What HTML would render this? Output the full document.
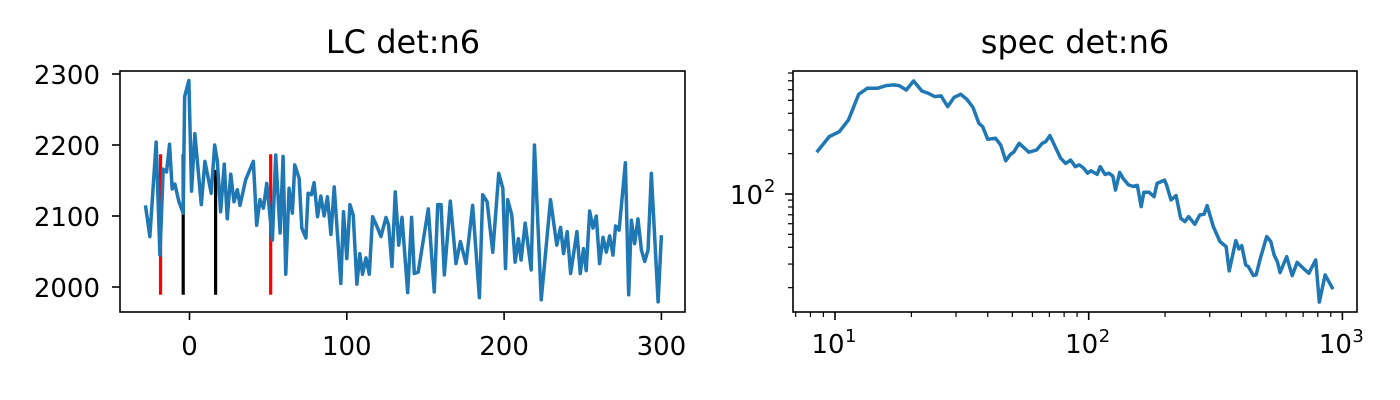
<!DOCTYPE html>
<html><head><meta charset="utf-8"><style>
html,body{margin:0;padding:0;background:#fff;}
svg{display:block;font-family:"DejaVu Sans","Liberation Sans",sans-serif;}
</style></head><body>
<svg id="fig" width="1400" height="400" viewBox="0 0 1400 400" xmlns="http://www.w3.org/2000/svg">
<rect width="1400" height="400" fill="#fff"/>
<text x="403" y="53" font-size="32" text-anchor="middle">LC det:n6</text>
<text x="1075" y="53" font-size="32" text-anchor="middle">spec det:n6</text>
<g id="lc"></g>
<g id="spec"></g>
</svg>
<script>
const lcTimes=[-28,-25.2,-21.2,-18.8,-16.7,-14.6,-12.7,-11,-9.3,-6.7,-4,-3.1,-0.4,1.3,3.4,7.5,9.8,13.8,16,17.7,19.8,22.1,24,26.2,28.3,30.4,32.1,35.7,40.6,42.7,44.8,47,49.1,52.7,54.8,57.6,59.5,61.2,63.3,65.4,66.9,69.7,71.4,74,75.4,77.5,79.2,81.4,83.5,85.6,87.7,89.9,92,96.2,97.9,100,102,104.1,106.4,108.3,110,112.2,114.3,116.4,119.6,121.7,124.9,126.6,128.7,130.8,133,135.1,138.7,141.2,142.9,145.4,151.8,155.6,157.8,159.9,162,165.8,169.4,172.2,175.8,180,184.3,186.4,189.2,192.8,196.6,199.2,200.9,202.3,204.9,207,209.1,210.8,213.4,217.2,219.3,223.6,229.5,233.5,235.9,237.8,240.1,242.3,246.3,248.4,250.5,252.2,254.4,256.5,258.6,260.7,262.9,265,267.1,269.2,270.9,273.1,277.1,279.2,280.9,283,285.1,287.3,289.4,291.5,293.6,297.9,300];
const lcCounts=[2115,2071,2204,2045,2166,2162,2201,2138,2145,2120,2104,2268,2291,2135,2216,2116,2177,2132,2200,2177,2106,2173,2096,2159,2120,2137,2115,2151,2177,2087,2123,2111,2146,2066,2186,2076,2184,2018,2139,2104,2172,2153,2083,2069,2132,2130,2147,2099,2128,2100,2127,2074,2141,2005,2106,2040,2116,2101,2004,2047,2018,2041,2018,2099,2083,2071,2098,2087,2029,2134,2059,2098,1992,2098,2019,2021,2110,1993,2116,2116,2017,2121,2033,2064,2033,2115,1985,2130,2120,2049,2160,2139,2026,2123,2101,2035,2068,2038,2090,2024,2200,1982,2123,2059,2084,2047,2078,2019,2078,2019,2054,2023,2107,2083,2100,2033,2070,2049,2072,2045,2086,2080,2175,1989,2094,2061,2096,2052,2036,2052,2160,1979,2073];
const markerTimes=[-18.4,-4.0,16.6,51.6];
const markerColors=["red","black","black","red"];
const markerLow=[1989,1989,1989,1989];
const markerHigh=[2187,2187,2165,2187];
const lcXTicks=[0,100,200,300];
const lcYTicks=[2000,2100,2200,2300];

const specFreq=[8.47,9.49,10.4,11.3,12.4,13.4,14.7,15.9,17.0,17.9,19.1,20.4,22.0,23.3,24.7,26.2,27.8,29.5,31.3,33.1,35.0,36.9,38.2,40.0,42.9,45.0,47.1,49.2,50.6,53.2,58.1,62.3,65.6,67.7,70.3,77.5,81.1,84.9,88.5,91.8,95.5,99,102,108,111,116,120,124.5,127.5,132.5,136.5,143.5,149.5,155.5,161,165,173,181,186,199,203,211,221,230.5,239.5,247.5,262,274,285,293,310,329,348,358,380,391,401,416,426,446,457,474,503,522,538,554,568,603,634,663,701,738,760,785,811,855,918];
const specPower=[205,268,292,357,555,615,615,644,652,644,597,698,587,565,533,540,449,527,555,509,442,337,318,256,261,232,177,198,205,239,205,213,239,246,273,185,169,179,160,165,156,143,149,140,160,140,143,136,107,145,131,117,114,116,80.5,103,103,95.5,120,127,116,90.3,97.3,65.9,62.2,67.8,59.4,69.8,70.6,81.9,57.0,44.2,40.5,26.7,44.9,38.9,41.2,29.5,28.7,24.6,24.9,32.7,48.1,44.2,35.1,31.3,25.9,34.1,24.6,30.9,27.9,25.6,28.7,32.2,15.6,24.9,19.5];

const NS="http://www.w3.org/2000/svg";
function mk(parent,tag,attrs){const e=document.createElementNS(NS,tag);for(const k in attrs)e.setAttribute(k,attrs[k]);parent.appendChild(e);return e;}

// LC axes
const L={x0:120,x1:685,y0:71,y1:312};
const lx=t=>189.5+t*1.573;
const ly=v=>287-(v-2000)*0.71;
const lc=document.getElementById('lc');
markerTimes.forEach((t,i)=>{
  const ln=mk(lc,'line',{x1:lx(t),x2:lx(t),y1:ly(markerLow[i]),y2:ly(markerHigh[i]),stroke:markerColors[i],'stroke-width':3.2});
  
  
});
const lcPath=mk(lc,'polyline',{points:lcTimes.map((t,i)=>lx(t)+','+ly(lcCounts[i])).join(' '),fill:'none',stroke:'#1f77b4','stroke-width':3.5,'stroke-linejoin':'round'});


mk(lc,'rect',{x:L.x0,y:L.y0,width:L.x1-L.x0,height:L.y1-L.y0,fill:'none',stroke:'#000','stroke-width':1.6});
lcXTicks.forEach(t=>{
  mk(lc,'line',{x1:lx(t),x2:lx(t),y1:L.y1,y2:L.y1+8,stroke:'#000','stroke-width':1.6});
  const tx=mk(lc,'text',{x:lx(t),y:L.y1+43,'font-size':26,'text-anchor':'middle'});tx.textContent=t;
  
  
});
lcYTicks.forEach(v=>{
  mk(lc,'line',{x1:L.x0-8,x2:L.x0,y1:ly(v),y2:ly(v),stroke:'#000','stroke-width':1.6});
  const tx=mk(lc,'text',{x:L.x0-20,y:ly(v)+10,'font-size':26,'text-anchor':'end'});tx.textContent=v;
  
  
});

// Spectrum axes (log-log)
const S={x0:793,x1:1357,y0:71,y1:312};
const sx=f=>835+(Math.log10(f)-1)*253.7;
const sy=p=>194-(Math.log10(p)-2)*134;
const sp=document.getElementById('spec');
const spPath=mk(sp,'polyline',{points:specFreq.map((f,i)=>sx(f)+','+sy(specPower[i])).join(' '),fill:'none',stroke:'#1f77b4','stroke-width':3.5,'stroke-linejoin':'round'});


mk(sp,'rect',{x:S.x0,y:S.y0,width:S.x1-S.x0,height:S.y1-S.y0,fill:'none',stroke:'#000','stroke-width':1.6});
for(let d=1;d<=1000;d*=10){for(let m=1;m<10;m++){const f=d*m;const x=sx(f);if(x<S.x0||x>S.x1)continue;
  const major=(m===1);mk(sp,'line',{x1:x,x2:x,y1:S.y1,y2:S.y1+(major?8:5),stroke:'#000','stroke-width':major?1.6:1.2});
  if(major){const tx=mk(sp,'text',{x:x-7,y:S.y1+41,'font-size':26,'text-anchor':'middle'});tx.textContent='10';
    
    
    const e=mk(sp,'text',{x:x+10,y:S.y1+30,'font-size':18});e.textContent=Math.round(Math.log10(f));}
}}
for(let d=10;d<=1000;d*=10){for(let m=1;m<10;m++){const p=d*m;const y=sy(p);if(y<S.y0||y>S.y1)continue;
  const major=(m===1);mk(sp,'line',{x1:S.x0-(major?8:5),x2:S.x0,y1:y,y2:y,stroke:'#000','stroke-width':major?1.6:1.2});
  if(major){const tx=mk(sp,'text',{x:S.x0-30,y:y+10,'font-size':26,'text-anchor':'end'});tx.textContent='10';
    
    
    const e=mk(sp,'text',{x:S.x0-29,y:y-2,'font-size':18});e.textContent=Math.round(Math.log10(p));}
}}
</script>
</body></html>
